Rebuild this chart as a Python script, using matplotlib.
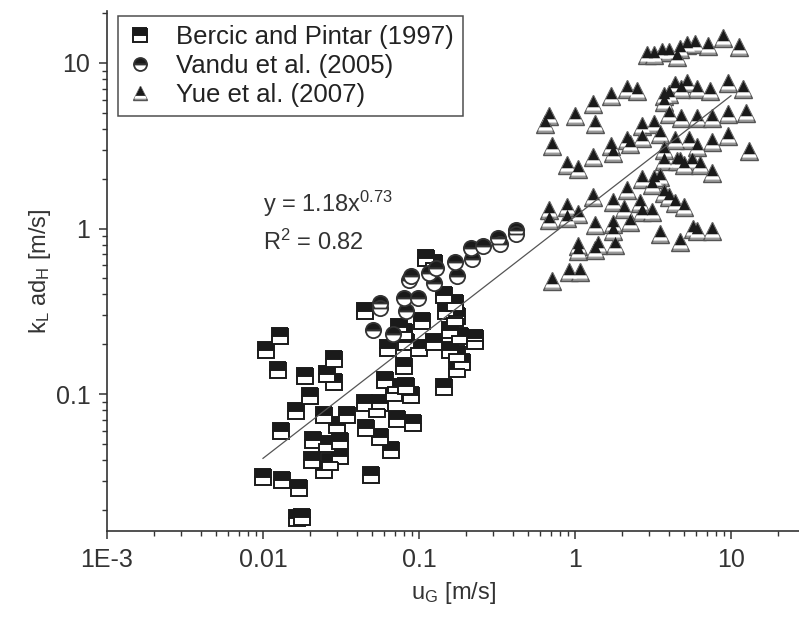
import numpy as np
import matplotlib
matplotlib.use("Agg")
import matplotlib.pyplot as plt
from matplotlib.path import Path
from matplotlib.legend_handler import HandlerTuple

plt.rcParams['font.family'] = ['Liberation Sans', 'DejaVu Sans']
plt.rcParams['mathtext.fontset'] = 'custom'
plt.rcParams['mathtext.rm'] = 'Liberation Sans'
plt.rcParams['mathtext.it'] = 'Liberation Sans'

# Bercic and Pintar (1997)
bercic_x = [0.0100, 0.0132, 0.0170, 0.0165, 0.0177, 0.0105, 0.0128, 0.0124, 0.0130, 0.0163,
            0.0187, 0.0201, 0.0208, 0.0205, 0.0247, 0.0257, 0.0247, 0.0257, 0.0287, 0.0287,
            0.0300, 0.0310, 0.0345, 0.0310, 0.0267, 0.0489, 0.0451, 0.0460, 0.0565, 0.0565,
            0.0660, 0.0540, 0.0450, 0.0635, 0.0610, 0.0710, 0.0725, 0.0690, 0.0800, 0.0830,
            0.0830, 0.0890, 0.0920, 0.0740, 0.0800, 0.1000, 0.1040, 0.1110, 0.1250, 0.1250,
            0.1450, 0.1450, 0.1500, 0.1570, 0.1570, 0.1700, 0.1760, 0.1760, 0.1890, 0.1760,
            0.1840, 0.2300, 0.2300, 0.1700]
bercic_y = [0.0317, 0.0303, 0.0272, 0.0178, 0.0180, 0.1845, 0.2230, 0.1400, 0.0600, 0.0790,
            0.1290, 0.0980, 0.0530, 0.0400, 0.0750, 0.0497, 0.0348, 0.1330, 0.1640, 0.1190,
            0.0650, 0.0420, 0.0750, 0.0520, 0.0389, 0.0324, 0.0880, 0.0620, 0.0880, 0.0553,
            0.0457, 0.0810, 0.3190, 0.1900, 0.1220, 0.1100, 0.0709, 0.1010, 0.1480, 0.2060,
            0.1120, 0.0986, 0.0670, 0.2560, 0.2360, 0.1900, 0.2780, 0.6670, 0.6200, 0.2060,
            0.1100, 0.3970, 0.3190, 0.2440, 0.1850, 0.3550, 0.2950, 0.1750, 0.1560, 0.1410,
            0.2230, 0.2170, 0.2100, 0.2870]

# Vandu et al. (2005)
vandu_x = [0.0508, 0.0565, 0.0565, 0.0685, 0.0799, 0.0830, 0.0860, 0.0890, 0.0980, 0.1160,
           0.1250, 0.1290, 0.1700, 0.1760, 0.2140, 0.2200, 0.2570, 0.3200, 0.3300, 0.4200,
           0.4200]
vandu_y = [0.244, 0.356, 0.330, 0.230, 0.381, 0.319, 0.490, 0.520, 0.380, 0.535,
           0.470, 0.580, 0.630, 0.520, 0.763, 0.650, 0.780, 0.878, 0.810, 0.980,
           0.930]

# Yue et al. (2007)
yue_x = [2.88, 3.60, 4.00, 4.70, 5.20, 5.85, 7.10, 8.90, 11.2, 4.50, 3.20,
         0.686, 0.640, 0.710, 1.00, 1.30, 1.35, 1.69, 2.15, 2.50, 3.70, 4.35, 5.20, 6.10,
         7.30, 9.60, 12.0, 4.00, 4.80,
         0.89, 1.04, 1.30, 1.69, 1.76, 2.15, 2.24, 2.70, 2.70, 3.20, 3.50, 3.70, 4.00,
         4.80, 5.40, 4.40, 6.10, 7.60, 9.60, 12.5, 13.0, 9.60, 7.60, 6.10, 4.70, 3.70,
         4.50, 5.60, 5.00, 6.30, 7.60, 3.70,
         0.686, 0.686, 0.89, 0.89, 1.04, 1.30, 1.76, 1.76, 2.24, 2.15, 2.60, 2.70, 2.70,
         3.20, 3.50, 3.70, 4.35, 5.00, 4.00, 3.10, 2.05, 3.10,
         0.71, 0.92, 1.08, 1.04, 1.35, 1.40, 1.80, 1.76, 1.35, 3.50, 4.70, 5.70, 6.10,
         7.60, 1.04]
yue_y = [11.2, 11.6, 11.6, 12.1, 12.8, 13.1, 12.6, 14.2, 12.5, 10.9, 11.2,
         4.78, 4.28, 3.17, 4.78, 5.63, 4.28, 6.28, 7.00, 6.80, 6.28, 7.40, 7.60, 7.00,
         6.80, 7.60, 7.00, 6.45, 7.00,
         2.41, 2.28, 2.69, 3.17, 2.84, 3.44, 3.26, 3.54, 4.17, 4.28, 3.73, 5.79, 4.90,
         4.64, 3.44, 3.44, 4.64, 4.64, 4.90, 5.00, 2.92, 3.64, 3.35, 3.10, 2.55, 2.55,
         2.55, 2.55, 2.41, 2.41, 2.16, 3.00,
         1.29, 1.13, 1.15, 1.35, 1.22, 1.56, 1.44, 1.07, 1.10, 1.70, 1.42, 1.26, 1.99,
         2.00, 2.05, 1.65, 1.42, 1.35, 1.56, 1.26, 1.32, 1.82,
         0.48, 0.55, 0.55, 0.785, 0.74, 0.80, 0.80, 0.96, 1.05, 0.93, 0.83, 1.00, 0.97,
         0.97, 0.73]

# power-law fit y = 1.18 x^0.73
fit_a = 1.18
fit_b = 0.73
fit_range = [0.01, 10]

fig = plt.figure(figsize=(7.99, 6.17), dpi=100)
ax = fig.add_axes([0.1339, 0.1394, 0.8661, 0.8428])
ax.set_xscale('log')
ax.set_yscale('log')

dark = '#1a1a1a'
h_sq, = ax.plot(bercic_x, bercic_y, linestyle='none', marker='s', markersize=11.5,
                fillstyle='top', markerfacecolor=dark, markerfacecoloralt='white',
                markeredgecolor=dark, markeredgewidth=1.4)
h_ci, = ax.plot(vandu_x, vandu_y, linestyle='none', marker='o', markersize=11,
                fillstyle='top', markerfacecolor=dark, markerfacecoloralt='white',
                markeredgecolor='#333333', markeredgewidth=1.3)

# triangles: grey base, white band, black top
tri_white = Path([(0, 1), (-0.85, -0.7), (0.85, -0.7), (0, 1)])
tri_black = Path([(0, 1), (-0.66, -0.32), (0.66, -0.32), (0, 1)])
tri_size = 12.5
h_t1, = ax.plot(yue_x, yue_y, linestyle='none', marker='^', markersize=tri_size,
                markerfacecolor='#9a9a9a', markeredgecolor='#555555', markeredgewidth=1.0)
h_t2, = ax.plot(yue_x, yue_y, linestyle='none', marker=tri_white, markersize=tri_size,
                markerfacecolor='white', markeredgewidth=0)
h_t3, = ax.plot(yue_x, yue_y, linestyle='none', marker=tri_black, markersize=tri_size,
                markerfacecolor=dark, markeredgewidth=0)

xf = np.logspace(np.log10(fit_range[0]), np.log10(fit_range[1]), 50)
ax.plot(xf, fit_a * xf ** fit_b, color='#555555', linewidth=0.9)

ax.text(0.01, 1.40, r'y = 1.18x$^{0.73}$', fontsize=17, color='#333333', va='center')
ax.text(0.01, 0.82, r'R$^2$ = 0.82', fontsize=17, color='#333333', va='center')

ax.set_xlim(1e-3, 27.3)
ax.set_ylim(0.0149, 20.6)
ax.set_xticks([1e-3, 0.01, 0.1, 1, 10])
ax.set_xticklabels(['1E-3', '0.01', '0.1', '1', '10'])
ax.set_yticks([0.1, 1, 10])
ax.set_yticklabels(['0.1', '1', '10'])

for s in ['top', 'right']:
    ax.spines[s].set_visible(False)
for s in ['left', 'bottom']:
    ax.spines[s].set_linewidth(1.2)
    ax.spines[s].set_color('#333333')

ax.tick_params(which='major', direction='out', length=6, width=1.1, labelsize=18,
               colors='#333333', pad=6)
ax.tick_params(which='minor', direction='out', length=3.5, width=1.0, colors='#333333')

ax.set_xlabel(r'u$_\mathregular{G}$ [m/s]', fontsize=17, color='#333333', labelpad=6)
ax.set_ylabel(r'k$_\mathregular{L}$ ad$_\mathregular{H}$ [m/s]', fontsize=17,
              color='#333333', labelpad=2)

leg = ax.legend([h_sq, h_ci, (h_t1, h_t2, h_t3)],
                ['Bercic and Pintar (1997)', 'Vandu et al. (2005)', 'Yue et al. (2007)'],
                handler_map={tuple: HandlerTuple(ndivide=1, pad=0)},
                loc='upper left', bbox_to_anchor=(118 / 799, 1 - 16 / 617),
                bbox_transform=fig.transFigure, borderaxespad=0, fontsize=18.5,
                frameon=True, fancybox=False, edgecolor='#222222', handlelength=1.0,
                handletextpad=0.9, labelspacing=0.2, borderpad=0.35, numpoints=1,
                markerscale=0.85)
leg.get_frame().set_linewidth(1.1)
for t in leg.get_texts():
    t.set_color('#222222')

fig.savefig('out.png', dpi=100)
